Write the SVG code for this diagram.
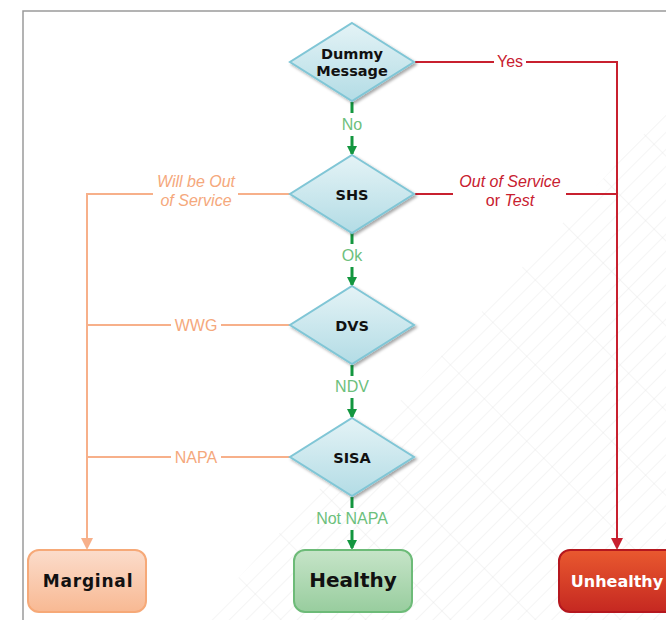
<svg xmlns="http://www.w3.org/2000/svg" width="666" height="620" viewBox="0 0 666 620">
<style>
.dt{font-family:"DejaVu Sans",sans-serif;font-weight:bold;font-size:14.5px;fill:#111;text-anchor:middle}
.lbl{font-family:"Liberation Sans",Arial,sans-serif;font-size:16px;text-anchor:middle}
.g{fill:#6cc07c}
.r{fill:#c8202f}
.o{fill:#f5a87c}
.it{font-style:italic}
.gl{stroke:#13963f;stroke-width:3;fill:none}
.rl{stroke:#c8202f;stroke-width:2;fill:none}
.ol{stroke:#f7b08a;stroke-width:2;fill:none}
.dia{fill:url(#dg);stroke:#80c6d6;stroke-width:2;filter:url(#sh)}
</style>
<defs>
<linearGradient id="dg" x1="0" y1="0" x2="0" y2="1"><stop offset="0" stop-color="#e4f3f6"/><stop offset="1" stop-color="#b3dce5"/></linearGradient>
<linearGradient id="mg" x1="0" y1="0" x2="0" y2="1"><stop offset="0" stop-color="#fbdccb"/><stop offset="1" stop-color="#f8b993"/></linearGradient>
<linearGradient id="hg" x1="0" y1="0" x2="0" y2="1"><stop offset="0" stop-color="#c6e4c8"/><stop offset="1" stop-color="#98cd9e"/></linearGradient>
<linearGradient id="ug" x1="0" y1="0" x2="0" y2="1"><stop offset="0" stop-color="#e9592f"/><stop offset="1" stop-color="#c52821"/></linearGradient>
<filter id="sh" x="-20%" y="-20%" width="150%" height="150%"><feDropShadow dx="2" dy="2" stdDeviation="1.5" flood-color="#000" flood-opacity="0.35"/></filter>
<pattern id="hatch" width="12" height="12" patternUnits="userSpaceOnUse" patternTransform="rotate(45)"><line x1="0" y1="0" x2="0" y2="12" stroke="#e6e6e6" stroke-width="1"/></pattern>
<pattern id="hatch2" width="60" height="60" patternUnits="userSpaceOnUse" patternTransform="rotate(-45)"><line x1="0" y1="0" x2="0" y2="60" stroke="#e6e6e6" stroke-width="1"/></pattern>
<marker id="ag" markerWidth="10" markerHeight="10" refX="8" refY="5" orient="auto" markerUnits="userSpaceOnUse" viewBox="0 0 10 10"><path d="M0,0 L10,5 L0,10 Z" fill="#13963f"/></marker>
<marker id="ar" markerWidth="12" markerHeight="12" refX="10" refY="6" orient="auto" markerUnits="userSpaceOnUse" viewBox="0 0 12 12"><path d="M0,0 L12,6 L0,12 Z" fill="#c8202f"/></marker>
<marker id="ao" markerWidth="12" markerHeight="12" refX="10" refY="6" orient="auto" markerUnits="userSpaceOnUse" viewBox="0 0 12 12"><path d="M0,0 L12,6 L0,12 Z" fill="#f7b08a"/></marker>
</defs>
<rect x="0" y="0" width="666" height="620" fill="#fff"/>
<g id="background">
<polygon points="200,620 666,110 666,620" fill="url(#hatch)" opacity="0.8"/>
<polygon points="200,620 666,110 666,620" fill="url(#hatch2)" opacity="0.8"/>
<polyline points="23,620 23,11 666,11" fill="none" stroke="#9a9a9a" stroke-width="1.5"/>
</g>
<g id="connectors">
<line class="gl" x1="352" y1="102" x2="352" y2="113"/>
<line class="gl" x1="352" y1="136" x2="352" y2="154" marker-end="url(#ag)"/>
<line class="gl" x1="352" y1="233" x2="352" y2="244"/>
<line class="gl" x1="352" y1="267" x2="352" y2="285" marker-end="url(#ag)"/>
<line class="gl" x1="352" y1="365" x2="352" y2="376"/>
<line class="gl" x1="352" y1="398" x2="352" y2="417" marker-end="url(#ag)"/>
<line class="gl" x1="352" y1="497" x2="352" y2="508"/>
<line class="gl" x1="352" y1="530" x2="352" y2="548" marker-end="url(#ag)"/>
<text class="lbl g" x="352" y="130">No</text>
<text class="lbl g" x="352" y="261">Ok</text>
<text class="lbl g" x="352" y="392">NDV</text>
<text class="lbl g" x="352" y="524">Not NAPA</text>
<polyline class="rl" points="415,62 494,62"/>
<polyline class="rl" points="526,62 617,62 617,548" marker-end="url(#ar)"/>
<line class="rl" x1="415" y1="194" x2="453" y2="194"/>
<line class="rl" x1="566" y1="194" x2="617" y2="194"/>
<text class="lbl r" x="510" y="67">Yes</text>
<text class="lbl r it" x="510" y="187">Out of Service</text>
<text class="lbl r" x="510" y="206">or <tspan class="it">Test</tspan></text>
<line class="ol" x1="291" y1="194" x2="238" y2="194"/>
<polyline class="ol" points="153,194 87,194 87,548" marker-end="url(#ao)"/>
<line class="ol" x1="291" y1="325" x2="221" y2="325"/>
<line class="ol" x1="171" y1="325" x2="87" y2="325"/>
<line class="ol" x1="291" y1="457" x2="221" y2="457"/>
<line class="ol" x1="171" y1="457" x2="87" y2="457"/>
<text class="lbl o it" x="196" y="187">Will be Out</text>
<text class="lbl o it" x="196" y="206">of Service</text>
<text class="lbl o" x="196" y="331">WWG</text>
<text class="lbl o" x="196" y="463">NAPA</text>
</g>
<g id="dummy">
<polygon class="dia" points="352,23 414,62 352,101 290,62"/>
<text class="dt" x="352" y="59">Dummy</text>
<text class="dt" x="352" y="76">Message</text>
</g>
<g id="shs">
<polygon class="dia" points="352,155 414,194 352,233 290,194"/>
<text class="dt" x="352" y="200">SHS</text>
</g>
<g id="dvs">
<polygon class="dia" points="352,286 414,325 352,364 290,325"/>
<text class="dt" x="352" y="331">DVS</text>
</g>
<g id="sisa">
<polygon class="dia" points="352,418 414,457 352,496 290,457"/>
<text class="dt" x="352" y="463">SISA</text>
</g>
<g id="marginal">
<rect x="28" y="550" width="118" height="62" rx="11" fill="url(#mg)" stroke="#f6a978" stroke-width="2"/>
<text x="88" y="587" font-family="DejaVu Sans,sans-serif" font-weight="bold" font-size="17px" letter-spacing="0.8" fill="#111" text-anchor="middle">Marginal</text>
</g>
<g id="healthy">
<rect x="294" y="550" width="118" height="62" rx="11" fill="url(#hg)" stroke="#6dbb78" stroke-width="2"/>
<text x="353" y="587" font-family="DejaVu Sans,sans-serif" font-weight="bold" font-size="20px" fill="#111" text-anchor="middle">Healthy</text>
</g>
<g id="unhealthy">
<rect x="559" y="550" width="122" height="62" rx="11" fill="url(#ug)" stroke="#b5171e" stroke-width="2"/>
<text x="617" y="587" font-family="DejaVu Sans,sans-serif" font-weight="bold" font-size="16px" fill="#fff" text-anchor="middle">Unhealthy</text>
</g>
</svg>
